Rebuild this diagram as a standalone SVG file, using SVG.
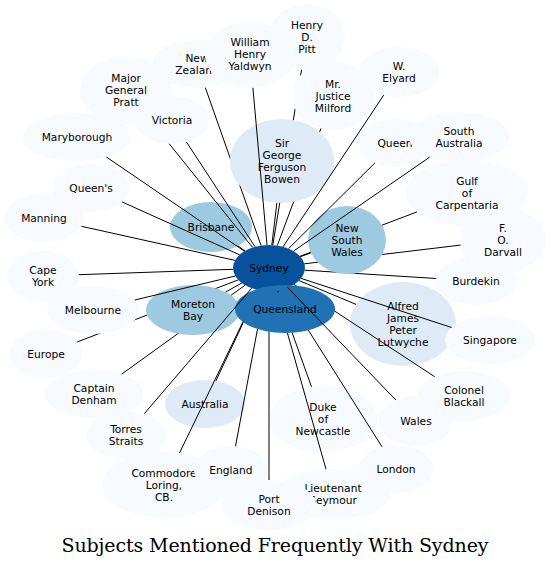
<svg xmlns="http://www.w3.org/2000/svg" width="551" height="567" viewBox="0 0 551 567">
<style>
.c0{fill:#f7fbff}.c1{fill:#deebf7}.c2{fill:#9ecae1}.c3{fill:#2171b5}.c4{fill:#08519c}
text{font-family:"DejaVu Sans",Verdana,sans-serif;font-size:10.67px;text-anchor:middle;fill:#000}
#edges line{stroke:#000;stroke-width:1;fill:none}
.title{font-family:"DejaVu Serif",serif;font-size:19px;text-anchor:middle;fill:#000}
</style>
<defs>
<mask id="m-sg" maskUnits="userSpaceOnUse" x="0" y="0" width="551" height="567"><rect width="551" height="567" fill="#fff"/><ellipse cx="282" cy="161" rx="52" ry="42" fill="#000"/></mask>
<mask id="m-sgmil" maskUnits="userSpaceOnUse" x="0" y="0" width="551" height="567"><rect width="551" height="567" fill="#fff"/><ellipse cx="282" cy="161" rx="52" ry="42" fill="#000"/><ellipse cx="333" cy="96" rx="41" ry="34" fill="#000"/></mask>
<mask id="m-mb" maskUnits="userSpaceOnUse" x="0" y="0" width="551" height="567"><rect width="551" height="567" fill="#fff"/><ellipse cx="193" cy="310" rx="47" ry="25" fill="#000"/></mask>
<mask id="m-melmb" maskUnits="userSpaceOnUse" x="0" y="0" width="551" height="567"><rect width="551" height="567" fill="#fff"/><ellipse cx="193" cy="310" rx="47" ry="25" fill="#000"/><ellipse cx="93" cy="310" rx="46" ry="24" fill="#000"/></mask>
<mask id="m-nsw" maskUnits="userSpaceOnUse" x="0" y="0" width="551" height="567"><rect width="551" height="567" fill="#fff"/><ellipse cx="347" cy="240" rx="39" ry="34" fill="#000"/></mask>
<mask id="m-ql" maskUnits="userSpaceOnUse" x="0" y="0" width="551" height="567"><rect width="551" height="567" fill="#fff"/><ellipse cx="285" cy="309" rx="50" ry="24" fill="#000"/></mask>
<mask id="m-vic" maskUnits="userSpaceOnUse" x="0" y="0" width="551" height="567"><rect width="551" height="567" fill="#fff"/><ellipse cx="172" cy="120" rx="37" ry="24" fill="#000"/></mask>
</defs>
<rect width="551" height="567" fill="#fff"/>
<g id="nodes">
<g id="n-sydney"><ellipse class="c4" cx="269" cy="268" rx="36" ry="23"/><text x="269" y="271.8">Sydney</text></g>
<g id="n-alfred"><ellipse class="c1" cx="403" cy="324" rx="53" ry="42"/><text x="403" y="309.8">Alfred</text><text x="403" y="321.8">James</text><text x="403" y="333.8">Peter</text><text x="403" y="345.8">Lutwyche</text></g>
<g id="n-australia"><ellipse class="c1" cx="205" cy="404" rx="40" ry="24"/><text x="205" y="407.8">Australia</text></g>
<g id="n-brisbane"><ellipse class="c2" cx="211" cy="227" rx="41" ry="25"/><text x="211" y="230.8">Brisbane</text></g>
<g id="n-burdekin"><ellipse class="c0" cx="476" cy="281" rx="40" ry="24"/><text x="476" y="284.8">Burdekin</text></g>
<g id="n-capeyork"><ellipse class="c0" cx="43" cy="276" rx="36" ry="25"/><text x="43" y="273.8">Cape</text><text x="43" y="285.8">York</text></g>
<g id="n-denham"><ellipse class="c0" cx="94" cy="394" rx="49" ry="24"/><text x="94" y="391.8">Captain</text><text x="94" y="403.8">Denham</text></g>
<g id="n-blackall"><ellipse class="c0" cx="464" cy="396" rx="46" ry="25"/><text x="464" y="393.8">Colonel</text><text x="464" y="405.8">Blackall</text></g>
<g id="n-loring"><ellipse class="c0" cx="164" cy="485" rx="62" ry="33"/><text x="164" y="476.8">Commodore</text><text x="164" y="488.8">Loring,</text><text x="164" y="500.8">CB.</text></g>
<g id="n-newcastle"><ellipse class="c0" cx="323" cy="419" rx="54" ry="33"/><text x="323" y="410.8">Duke</text><text x="323" y="422.8">of</text><text x="323" y="434.8">Newcastle</text></g>
<g id="n-england"><ellipse class="c0" cx="231" cy="470" rx="37" ry="24"/><text x="231" y="473.8">England</text></g>
<g id="n-europe"><ellipse class="c0" cx="46" cy="354" rx="36" ry="24"/><text x="46" y="357.8">Europe</text></g>
<g id="n-darvall"><ellipse class="c0" cx="503" cy="240" rx="43" ry="33"/><text x="503" y="231.8">F.</text><text x="503" y="243.8">O.</text><text x="503" y="255.8">Darvall</text></g>
<g id="n-gulf"><ellipse class="c0" cx="467" cy="193" rx="61" ry="33"/><text x="467" y="184.8">Gulf</text><text x="467" y="196.8">of</text><text x="467" y="208.8">Carpentaria</text></g>
<g id="n-pitt"><ellipse class="c0" cx="307" cy="37" rx="38" ry="33"/><text x="307" y="28.8">Henry</text><text x="307" y="40.8">D.</text><text x="307" y="52.8">Pitt</text></g>
<g id="n-seymour"><ellipse class="c0" cx="333" cy="494" rx="58" ry="25"/><text x="333" y="491.8">Lieutenant</text><text x="333" y="503.8">Seymour</text></g>
<g id="n-london"><ellipse class="c0" cx="396" cy="469" rx="37" ry="24"/><text x="396" y="472.8">London</text></g>
<g id="n-pratt"><ellipse class="c0" cx="126" cy="90" rx="46" ry="33"/><text x="126" y="81.8">Major</text><text x="126" y="93.8">General</text><text x="126" y="105.8">Pratt</text></g>
<g id="n-manning"><ellipse class="c0" cx="44" cy="218" rx="40" ry="24"/><text x="44" y="221.8">Manning</text></g>
<g id="n-maryborough"><ellipse class="c0" cx="77" cy="137" rx="54" ry="24"/><text x="77" y="140.8">Maryborough</text></g>
<g id="n-melbourne"><ellipse class="c0" cx="93" cy="310" rx="46" ry="24"/><text x="93" y="313.8">Melbourne</text></g>
<g id="n-moretonbay"><ellipse class="c2" cx="193" cy="310" rx="47" ry="25"/><text x="193" y="307.8">Moreton</text><text x="193" y="319.8">Bay</text></g>
<g id="n-milford"><ellipse class="c0" cx="333" cy="96" rx="41" ry="34"/><text x="333" y="87.8">Mr.</text><text x="333" y="99.8">Justice</text><text x="333" y="111.8">Milford</text></g>
<g id="n-nsw"><ellipse class="c2" cx="347" cy="240" rx="39" ry="34"/><text x="347" y="231.8">New</text><text x="347" y="243.8">South</text><text x="347" y="255.8">Wales</text></g>
<g id="n-nz"><ellipse class="c0" cx="197" cy="64" rx="45" ry="24"/><text x="197" y="61.8">New</text><text x="197" y="73.8">Zealand</text></g>
<g id="n-portdenison"><ellipse class="c0" cx="269" cy="505" rx="47" ry="25"/><text x="269" y="502.8">Port</text><text x="269" y="514.8">Denison</text></g>
<g id="n-queen"><ellipse class="c0" cx="395" cy="143" rx="36" ry="24"/><text x="395" y="146.8">Queen</text></g>
<g id="n-queens"><ellipse class="c0" cx="91" cy="188" rx="38" ry="24"/><text x="91" y="191.8">Queen's</text></g>
<g id="n-queensland"><ellipse class="c3" cx="285" cy="309" rx="50" ry="24"/><text x="285" y="312.8">Queensland</text></g>
<g id="n-singapore"><ellipse class="c0" cx="490" cy="340" rx="45" ry="24"/><text x="490" y="343.8">Singapore</text></g>
<g id="n-bowen"><ellipse class="c1" cx="282" cy="161" rx="52" ry="42"/><text x="282" y="146.8">Sir</text><text x="282" y="158.8">George</text><text x="282" y="170.8">Ferguson</text><text x="282" y="182.8">Bowen</text></g>
<g id="n-southaustralia"><ellipse class="c0" cx="459" cy="137" rx="50" ry="25"/><text x="459" y="134.8">South</text><text x="459" y="146.8">Australia</text></g>
<g id="n-torres"><ellipse class="c0" cx="126" cy="435" rx="40" ry="24"/><text x="126" y="432.8">Torres</text><text x="126" y="444.8">Straits</text></g>
<g id="n-victoria"><ellipse class="c0" cx="172" cy="120" rx="37" ry="24"/><text x="172" y="123.8">Victoria</text></g>
<g id="n-elyard"><ellipse class="c0" cx="399" cy="72" rx="40" ry="25"/><text x="399" y="69.8">W.</text><text x="399" y="81.8">Elyard</text></g>
<g id="n-wales"><ellipse class="c0" cx="416" cy="421" rx="37" ry="25"/><text x="416" y="424.8">Wales</text></g>
<g id="n-yaldwyn"><ellipse class="c0" cx="250" cy="55" rx="45" ry="33"/><text x="250" y="46">William</text><text x="250" y="58">Henry</text><text x="250" y="70">Yaldwyn</text></g>
</g>
<g id="edges">
<line x1="299.1" y1="280.6" x2="356.1" y2="304.4"/>
<line x1="258.6" y1="290" x2="215.9" y2="380.9" mask="url(#m-ql)"/>
<line x1="244.9" y1="250.9" x2="237.8" y2="245.9"/>
<line x1="304.8" y1="270.2" x2="436.2" y2="278.5" mask="url(#m-nsw)"/>
<line x1="233.1" y1="269.3" x2="78.9" y2="274.7"/>
<line x1="245.1" y1="285.2" x2="121.6" y2="374.2" mask="url(#m-mb)"/>
<line x1="294.1" y1="284.5" x2="434.7" y2="376.7" mask="url(#m-ql)"/>
<line x1="258.4" y1="290" x2="179.5" y2="453" mask="url(#m-ql)"/>
<line x1="277" y1="290.4" x2="311.5" y2="386.8" mask="url(#m-ql)"/>
<line x1="264.7" y1="290.8" x2="235.5" y2="446.2" mask="url(#m-ql)"/>
<line x1="238.2" y1="279.9" x2="77.2" y2="342" mask="url(#m-melmb)"/>
<line x1="304.4" y1="263.8" x2="460.5" y2="245.1" mask="url(#m-nsw)"/>
<line x1="300" y1="256.3" x2="417" y2="211.9" mask="url(#m-nsw)"/>
<line x1="272.8" y1="245.1" x2="301.6" y2="69.7" mask="url(#m-sgmil)"/>
<line x1="275.4" y1="290.6" x2="326" y2="469.2" mask="url(#m-ql)"/>
<line x1="282.5" y1="289.3" x2="382" y2="446.8" mask="url(#m-ql)"/>
<line x1="252.6" y1="247.5" x2="149" y2="118.6" mask="url(#m-vic)"/>
<line x1="235" y1="260.4" x2="81.5" y2="226.3"/>
<line x1="244.4" y1="251.2" x2="106.5" y2="157.1"/>
<line x1="235.3" y1="276" x2="134.8" y2="300"/>
<line x1="241.8" y1="283" x2="225.6" y2="292"/>
<line x1="277.3" y1="245.6" x2="320.9" y2="128.5" mask="url(#m-sg)"/>
<line x1="300.4" y1="256.7" x2="310.9" y2="252.9"/>
<line x1="261.1" y1="245.6" x2="205.3" y2="87.6" mask="url(#m-sg)"/>
<line x1="269" y1="291" x2="269" y2="480" mask="url(#m-ql)"/>
<line x1="288.5" y1="248.7" x2="374.9" y2="162.9"/>
<line x1="239.6" y1="254.8" x2="122" y2="201.9"/>
<line x1="278" y1="291" x2="278" y2="292.3"/>
<line x1="301.1" y1="278.4" x2="451.6" y2="327.5"/>
<line x1="271.8" y1="245.1" x2="276.9" y2="202.8"/>
<line x1="293.5" y1="251.1" x2="429.6" y2="157.2"/>
<line x1="251.7" y1="288.2" x2="144.3" y2="413.7"/>
<line x1="255.1" y1="246.8" x2="186.5" y2="142.1"/>
<line x1="283" y1="246.8" x2="383.7" y2="95.1"/>
<line x1="287.8" y1="287.6" x2="395.8" y2="400"/>
<line x1="267" y1="245" x2="252.9" y2="87.9"/>
</g>
<text class="title" x="275" y="551.5" textLength="427">Subjects Mentioned Frequently With Sydney</text>
</svg>
